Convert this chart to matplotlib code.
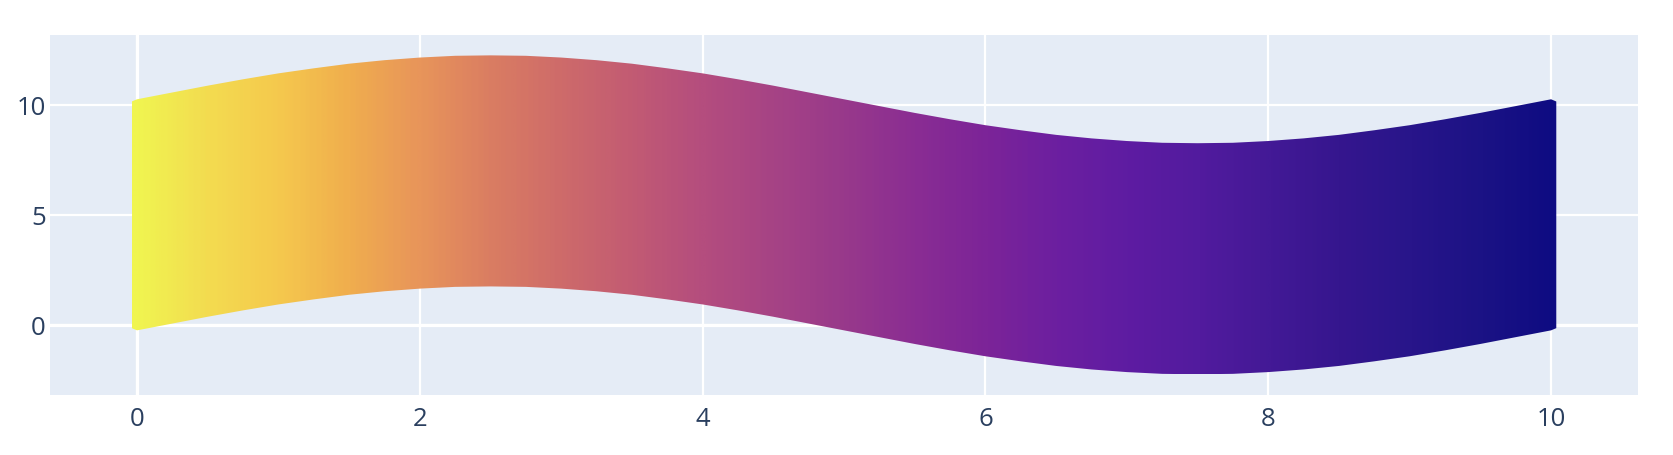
import numpy as np
import matplotlib
matplotlib.use("Agg")
import matplotlib.pyplot as plt
from matplotlib.colors import LinearSegmentedColormap

# ---- data ----
x_vals = [0.0, 0.25, 0.5, 0.75, 1.0, 1.25, 1.5, 1.75, 2.0, 2.25, 2.5, 2.75, 3.0, 3.25,
          3.5, 3.75, 4.0, 4.25, 4.5, 4.75, 5.0, 5.25, 5.5, 5.75, 6.0, 6.25, 6.5, 6.75,
          7.0, 7.25, 7.5, 7.75, 8.0, 8.25, 8.5, 8.75, 9.0, 9.25, 9.5, 9.75, 10.0]
y_low = [0.00, 0.31, 0.62, 0.91, 1.18, 1.41, 1.62, 1.78, 1.90, 1.98, 2.00, 1.98, 1.90,
         1.78, 1.62, 1.41, 1.18, 0.91, 0.62, 0.31, 0.00, -0.31, -0.62, -0.91, -1.18,
         -1.41, -1.62, -1.78, -1.90, -1.98, -2.00, -1.98, -1.90, -1.78, -1.62, -1.41,
         -1.18, -0.91, -0.62, -0.31, 0.00]
y_high = [10.00, 10.31, 10.62, 10.91, 11.18, 11.41, 11.62, 11.78, 11.90, 11.98, 12.00,
          11.98, 11.90, 11.78, 11.62, 11.41, 11.18, 10.91, 10.62, 10.31, 10.00, 9.69,
          9.38, 9.09, 8.82, 8.59, 8.38, 8.22, 8.10, 8.02, 8.00, 8.02, 8.10, 8.22, 8.38,
          8.59, 8.82, 9.09, 9.38, 9.69, 10.00]
x_ticks = [0, 2, 4, 6, 8, 10]
y_ticks = [0, 5, 10]

# ---- style ----
grad_colors = ["#f0f550", "#f3dc50", "#f5c94d", "#f0ae4e", "#e8955a", "#da7d62",
               "#ce6b6a", "#c25b73", "#b44d7e", "#a64385", "#98398b", "#8a2d93",
               "#7c2498", "#6c1fa0", "#5e1ca2", "#521b9e", "#431996", "#35168e",
               "#28158a", "#1b1285", "#0e0c82"]
cmap = LinearSegmentedColormap.from_list("band", grad_colors)
BG = "#e5ecf6"
TXT = "#2a3f5f"
PAD_Y = 0.26   # marker radius in data units (y)
PAD_X = 0.037  # marker radius in data units (x)

plt.rcParams["font.family"] = ["Open Sans", "DejaVu Sans"]

fig = plt.figure(figsize=(16.74, 4.56), dpi=100)
ax = fig.add_axes([0.0299, 0.1322, 0.9486, 0.7895])
ax.set_facecolor(BG)
for s in ax.spines.values():
    s.set_visible(False)

xa = np.asarray(x_vals)
lo = np.asarray(y_low) - PAD_Y
hi = np.asarray(y_high) + PAD_Y
xa = np.concatenate([[xa[0] - PAD_X], xa, [xa[-1] + PAD_X]])
lo = np.concatenate([[lo[0] + 0.1], lo, [lo[-1] + 0.1]])
hi = np.concatenate([[hi[0] - 0.1], hi, [hi[-1] - 0.1]])

poly = ax.fill_between(xa, lo, hi, facecolor="none", edgecolor="none", zorder=3)
grad = np.linspace(0, 1, 600)[None, :]
im = ax.imshow(grad, cmap=cmap, aspect="auto", interpolation="bilinear",
               extent=(xa[0], xa[-1], lo.min(), hi.max()), zorder=3)
path = poly.get_paths()[0]
im.set_clip_path(path, transform=ax.transData)

ax.set_xlim(-0.615, 10.615)
ax.set_ylim(-3.19, 13.2)
ax.set_xticks(x_ticks)
ax.set_yticks(y_ticks)
ax.set_xticklabels([str(t) for t in x_ticks])
ax.set_yticklabels([str(t) for t in y_ticks])
ax.grid(True, color="white", linewidth=1.6, zorder=1)
ax.set_axisbelow(True)
ax.axhline(0, color="white", linewidth=2.3, zorder=1.5)
ax.axvline(0, color="white", linewidth=2.3, zorder=1.5)
ax.tick_params(axis="both", length=0, labelsize=18.5, labelcolor=TXT)
ax.tick_params(axis="x", pad=8)
ax.tick_params(axis="y", pad=3)

fig.savefig("out.png", dpi=100)
